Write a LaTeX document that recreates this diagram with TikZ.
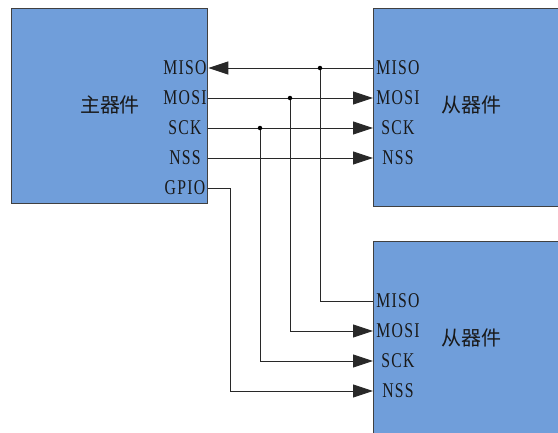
\documentclass[tikz,border=0pt]{standalone}
\usepackage{fontspec}
\newfontfamily\labfont[FakeStretch=0.75,LetterSpace=6]{Liberation Serif}
\newfontfamily\cjk{Noto Sans CJK SC}
\usetikzlibrary{arrows.meta}
\definecolor{boxblue}{RGB}{112,158,218}
\definecolor{edgegray}{RGB}{64,64,64}
\definecolor{wire}{RGB}{40,40,40}
\tikzset{
  devbox/.style={draw=edgegray, line width=1.3pt, fill=boxblue, inner sep=0pt, anchor=north west},
  pin/.style={font=\labfont\fontsize{21}{21}\selectfont, text=black!90, inner sep=0pt, anchor=center},
  title/.style={font=\cjk\fontsize{20}{20}\selectfont, text=black!90, inner sep=0pt},
  wireline/.style={draw=wire, line width=0.9pt},
  tip/.style={wireline, -{Triangle[length=20pt,width=13pt]}},
  junction/.style={circle, fill=black, inner sep=0pt, minimum size=4.5pt}
}
\begin{document}
\begin{tikzpicture}[x=1pt,y=-1pt]
\useasboundingbox (0,0) rectangle (558,432);
\clip (0,0) rectangle (558,432);
% boxes
\node[devbox, minimum width=196pt, minimum height=195pt] (m) at (11,8) {};
\node[devbox, minimum width=200pt, minimum height=198pt] (s1) at (373,8) {};
\node[devbox, minimum width=200pt, minimum height=200pt] (s2) at (373,241) {};
% titles
\node[title] (mt) at (110,105) {主器件};
\node[title] (s1t) at (471,105) {从器件};
\node[title] (s2t) at (471,338) {从器件};
% master pins
\node[pin] (mMISO) at (185,68) {MISO};
\node[pin] (mMOSI) at (185,98) {MOSI};
\node[pin] (mSCK) at (185,128) {SCK};
\node[pin] (mNSS) at (185,158) {NSS};
\node[pin] (mGPIO) at (185,188) {GPIO};
% slave 1 pins
\node[pin] (aMISO) at (398,68) {MISO};
\node[pin] (aMOSI) at (398,98) {MOSI};
\node[pin] (aSCK) at (398,128) {SCK};
\node[pin] (aNSS) at (398,158) {NSS};
% slave 2 pins
\node[pin] (bMISO) at (398,301) {MISO};
\node[pin] (bMOSI) at (398,331) {MOSI};
\node[pin] (bSCK) at (398,361) {SCK};
\node[pin] (bNSS) at (398,391) {NSS};
% edge coordinates
\coordinate (pmMISO) at (m.east |- mMISO);
\coordinate (pmMOSI) at (m.east |- mMOSI);
\coordinate (pmSCK) at (m.east |- mSCK);
\coordinate (pmNSS) at (m.east |- mNSS);
\coordinate (pmGPIO) at (m.east |- mGPIO);
\coordinate (paMISO) at (s1.west |- aMISO);
\coordinate (paMOSI) at (s1.west |- aMOSI);
\coordinate (paSCK) at (s1.west |- aSCK);
\coordinate (paNSS) at (s1.west |- aNSS);
\coordinate (pbMISO) at (s2.west |- bMISO);
\coordinate (pbMOSI) at (s2.west |- bMOSI);
\coordinate (pbSCK) at (s2.west |- bSCK);
\coordinate (pbNSS) at (s2.west |- bNSS);
% junctions
\coordinate (jMISO) at (320,68);
\coordinate (jMOSI) at (290,98);
\coordinate (jSCK) at (260,128);
\coordinate (jGPIO) at (230,188);
% wires
\draw[tip] (paMISO) -- (pmMISO);
\draw[tip] (pmMOSI) -- (paMOSI);
\draw[tip] (pmSCK) -- (paSCK);
\draw[tip] (pmNSS) -- (paNSS);
\draw[wireline] (jMISO) |- (pbMISO);
\draw[tip] (jMOSI) |- (pbMOSI);
\draw[tip] (jSCK) |- (pbSCK);
\draw[tip] (pmGPIO) -- (jGPIO) |- (pbNSS);
\node[junction] (dMISO) at (jMISO) {};
\node[junction] (dMOSI) at (jMOSI) {};
\node[junction] (dSCK) at (jSCK) {};
\end{tikzpicture}
\end{document}
